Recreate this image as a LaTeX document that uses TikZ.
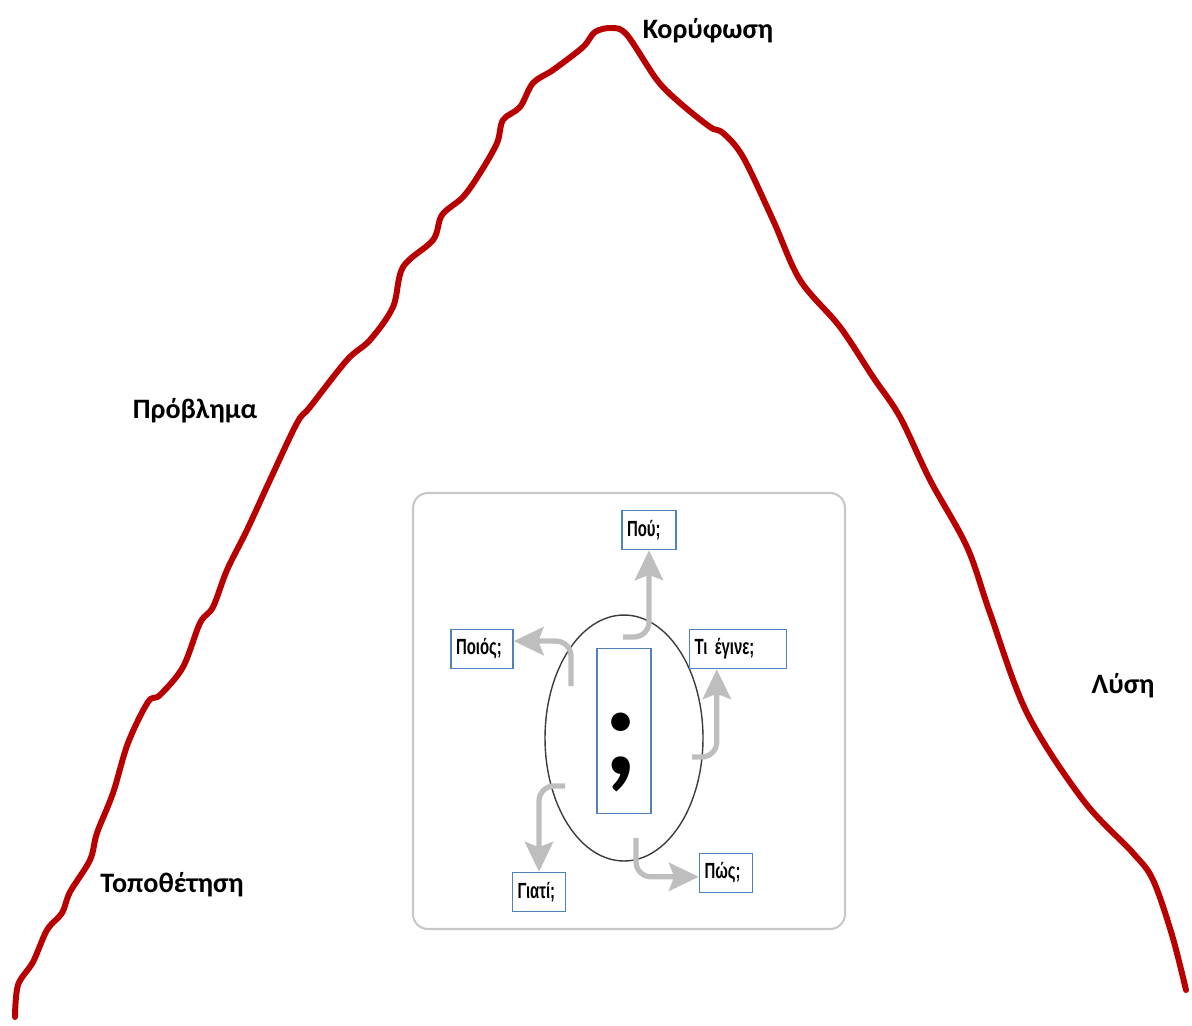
\documentclass[tikz,border=0pt]{standalone}
\usepackage{fontspec}
\setmainfont{Carlito}
\newfontfamily\boxfont[FakeStretch=0.68]{Liberation Sans}
\newfontfamily\markfont{Lato}
\usepackage{tikz}
\usetikzlibrary{positioning}
\usetikzlibrary{shapes,arrows.meta}
\definecolor{peakred}{RGB}{185,0,0}
\definecolor{boxblue}{RGB}{79,129,189}
\definecolor{arrowgray}{RGB}{190,190,190}
\definecolor{framegray}{RGB}{200,200,200}
\definecolor{ringgray}{RGB}{60,60,60}
\tikzset{%
  stage/.style   = {anchor=base, font=\fontsize{16}{19}\selectfont\bfseries}, % curve labels
  frame/.style   = {draw=framegray, line width=1.2pt, rounded corners=0.3cm},
  qbox/.style    = {draw=boxblue, line width=0.8pt, fill=white, minimum height=0.78cm,
    inner xsep=0.1cm, text width=#1, align=left,
    font=\boxfont\fontsize{12.5}{14}\selectfont\bfseries}, % question
  hub/.style     = {draw=ringgray, line width=0.8pt, ellipse, minimum width=3.16cm,
    minimum height=4.92cm, inner sep=0pt},
  markbox/.style = {draw=boxblue, line width=0.8pt, minimum width=1.08cm,
    minimum height=3.3cm, inner sep=0pt},
  semi/.style    = {font=\markfont\fontsize{70}{70}\selectfont\bfseries, inner sep=0pt},
  flow/.style    = {draw=arrowgray, line width=3pt, rounded corners=0.3cm,
    -{Stealth[length=17pt, width=16pt, inset=3pt]}}
}

\begin{document}
\begin{tikzpicture}[x=0.02cm, y=-0.02cm]

	\useasboundingbox (0,0) rectangle (1192,1025);

	% the story curve
	\draw[peakred, line width=3.4pt, line cap=round, line join=round]
	  plot[smooth, tension=0.55] coordinates {(15,1017) (18,985) (33,962) (47,930)
	  (62,913) (70,892) (90,860) (97,833) (113,793) (128,743) (148,702) (160,695)
	  (183,667) (200,623) (213,607) (227,570) (247,530) (270,480) (297,423) (310,407)
	  (347,360) (370,340) (393,307) (403,267) (433,240) (442,215) (463,197) (480,173)
	  (497,143) (503,120) (520,107) (533,83) (553,70) (583,47) (595,32) (612,28)
	  (627,35) (657,80) (680,103) (710,127) (723,133) (743,157) (773,220) (800,280)
	  (840,327) (873,377) (900,417) (930,480) (967,547) (990,613) (1027,713)
	  (1083,800) (1133,853) (1153,880) (1172,935) (1186,990)};

	\draw node at (708,38) [stage] (climax) {Κορύφωση};
	\draw node at (195,418) [stage] (problem) {Πρόβλημα};
	\draw node at (1123,693) [stage] (solution) {Λύση};
	\draw node at (172,892) [stage] (setting) {Τοποθέτηση};

	\draw[frame] (413,493) rectangle (845,929);

	\draw node at (624,738) [hub] (hub) {};
	\draw node at (624,731) [markbox] (mark) {};
	\draw node at (621,752) [semi] (semi) {;};

	\draw node at (649,530) [qbox=0.88cm] (pou) {Πού;};
	\draw node at (482,649) [qbox=1.04cm] (poios) {Ποιός;};
	\draw node at (738,649) [qbox=1.74cm] (tiegine) {Τι έγινε;};
	\draw node at (539,892) [qbox=0.86cm] (giati) {Γιατί;};
	\draw node at (726,873) [qbox=0.86cm] (pos) {Πώς;};

	\coordinate (pouA) at (623,637);
	\coordinate (poiosA) at (571,686);
	\coordinate (tiA) at (692,757);
	\coordinate (giA) at (565,786);
	\coordinate (posA) at (636,838);

	\draw[flow] (pouA) -| (pou.south);
	\draw[flow] (poiosA) |- (poios.14);
	\draw[flow] (tiA) -| ([xshift=0.56cm]tiegine.south west);
	\draw[flow] (giA) -| (giati.north);
	\draw[flow] (posA) |- (pos.-172);

\end{tikzpicture}
\end{document}
